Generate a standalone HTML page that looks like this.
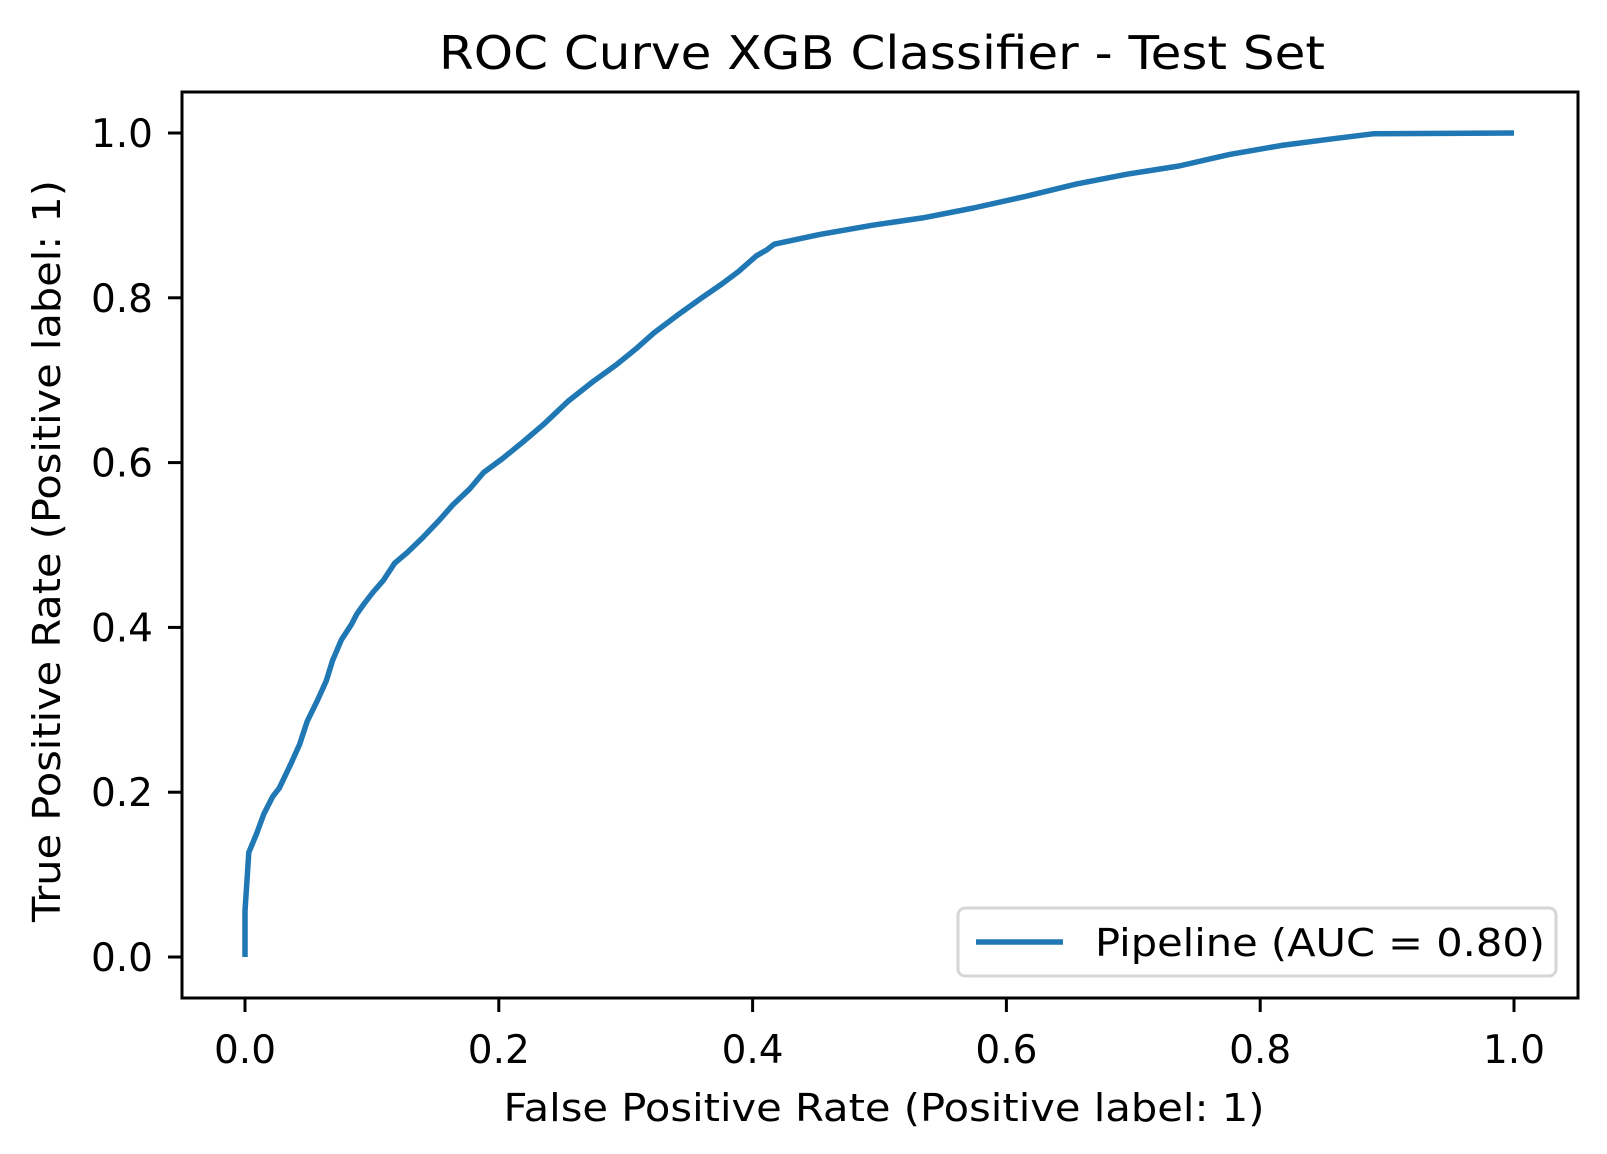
<!DOCTYPE html>
<html><head><meta charset="utf-8"><style>
html,body{margin:0;padding:0;background:#fff;}
svg{display:block;font-family:"DejaVu Sans","Liberation Sans",sans-serif;}
</style></head><body>
<svg id="chart" width="1607" height="1154" viewBox="0 0 1607 1154" xmlns="http://www.w3.org/2000/svg">
<rect width="1607" height="1154" fill="#fff"/>
<text x="882" y="69" font-size="46" text-anchor="middle" textLength="886" lengthAdjust="spacingAndGlyphs">ROC Curve XGB Classifier - Test Set</text>
<g id="ticks"></g>
<path id="curve" fill="none" stroke="#1f77b4" stroke-width="5.5" stroke-linejoin="round"/>
<rect x="182" y="92" width="1396" height="906" fill="none" stroke="#000" stroke-width="3"/>
<text x="884" y="1121" font-size="38" text-anchor="middle" textLength="761" lengthAdjust="spacingAndGlyphs">False Positive Rate (Positive label: 1)</text>
<text x="0" y="0" font-size="38" text-anchor="middle" transform="translate(60,551) rotate(-90)" textLength="742" lengthAdjust="spacingAndGlyphs">True Positive Rate (Positive label: 1)</text>
<g>
<rect x="958" y="908" width="598" height="68" rx="7" fill="#fff" fill-opacity="0.8" stroke="#d6d6d6" stroke-width="3"/>
<line x1="976" y1="942" x2="1063" y2="942" stroke="#1f77b4" stroke-width="5.5"/>
<text x="1095" y="956" font-size="38" textLength="450" lengthAdjust="spacingAndGlyphs">Pipeline (AUC = 0.80)</text>
</g>
</svg>
<script>
const fprValues=[0,0,0.003,0.009,0.015,0.022,0.027,0.036,0.043,0.049,0.057,0.064,0.069,0.076,0.084,0.088,0.094,0.101,0.109,0.118,0.128,0.140,0.153,0.164,0.177,0.188,0.203,0.219,0.235,0.255,0.274,0.292,0.308,0.322,0.340,0.359,0.376,0.389,0.403,0.411,0.417,0.453,0.494,0.534,0.574,0.615,0.655,0.695,0.736,0.776,0.817,0.857,0.889,1.0];
const tprValues=[0,0.056,0.127,0.149,0.174,0.195,0.205,0.234,0.258,0.286,0.311,0.335,0.360,0.385,0.404,0.416,0.429,0.443,0.457,0.478,0.491,0.509,0.530,0.549,0.568,0.588,0.605,0.625,0.646,0.675,0.698,0.718,0.738,0.757,0.778,0.799,0.817,0.832,0.851,0.858,0.865,0.877,0.888,0.897,0.909,0.923,0.938,0.950,0.960,0.974,0.985,0.993,0.999,1.0];
const xTicks=[0,0.2,0.4,0.6,0.8,1.0];
const yTicks=[0,0.2,0.4,0.6,0.8,1.0];
const xTickLabels=["0.0","0.2","0.4","0.6","0.8","1.0"];
const yTickLabels=["0.0","0.2","0.4","0.6","0.8","1.0"];
const sx=v=>245+v*1269;
const sy=v=>957-v*824;
const NS="http://www.w3.org/2000/svg";
let d="";
fprValues.forEach((f,i)=>{d+=(i?"L":"M")+sx(f).toFixed(1)+","+sy(tprValues[i]).toFixed(1);});
document.getElementById("curve").setAttribute("d",d);
const g=document.getElementById("ticks");
xTicks.forEach((v,i)=>{
  const l=document.createElementNS(NS,"line");
  
  
  l.setAttribute("x1",sx(v));l.setAttribute("x2",sx(v));l.setAttribute("y1",998);l.setAttribute("y2",1012);
  l.setAttribute("stroke","#000");l.setAttribute("stroke-width","3");g.appendChild(l);
  const t=document.createElementNS(NS,"text");
  
  
  t.setAttribute("x",sx(v));t.setAttribute("y",1063);t.setAttribute("font-size","39");t.setAttribute("text-anchor","middle");
  t.textContent=xTickLabels[i];g.appendChild(t);
});
yTicks.forEach((v,i)=>{
  const l=document.createElementNS(NS,"line");
  
  
  l.setAttribute("x1",168);l.setAttribute("x2",182);l.setAttribute("y1",sy(v));l.setAttribute("y2",sy(v));
  l.setAttribute("stroke","#000");l.setAttribute("stroke-width","3");g.appendChild(l);
  const t=document.createElementNS(NS,"text");
  
  
  t.setAttribute("x",153);t.setAttribute("y",sy(v)+14);t.setAttribute("font-size","39");t.setAttribute("text-anchor","end");
  t.textContent=yTickLabels[i];g.appendChild(t);
});
</script>
</body></html>
